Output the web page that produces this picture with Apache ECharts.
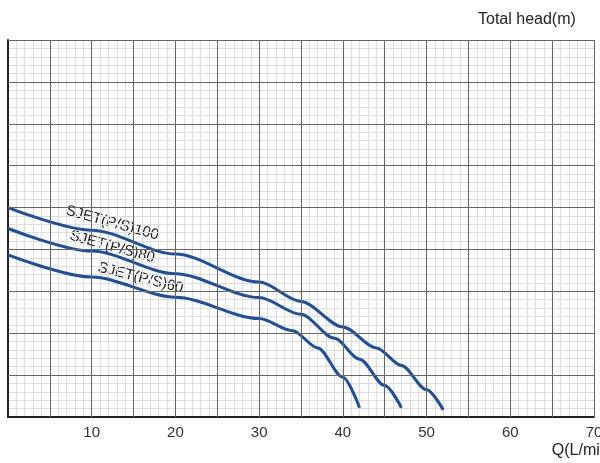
<!DOCTYPE html><html><head><meta charset="utf-8">
<script src="https://cdn.jsdelivr.net/npm/echarts@6/dist/echarts.min.js"></script>
<style>html,body{margin:0;background:#fff}#c{width:600px;height:463px}</style></head><body><div id="c"></div>
<script>
const names=['SJET(P/S)100','SJET(P/S)80','SJET(P/S)60'];
const s100=[[0,50],[10,44.6],[20,38.9],[30,32.2],[35,27.6],[40,21.5],[44,16.5],[47,12.3],[50,6.5],[52,1.7]];
const s80=[[0,45],[10,39.6],[20,34.2],[30,28.5],[35,24.5],[39,18.8],[42,13.8],[45,7.5],[47,2.2]];
const s60=[[0,38.7],[10,33.4],[20,28.6],[30,23.5],[34,20.6],[37,16.5],[40,9.5],[42,2.2]];
const xTicks=[10,20,30,40,50,60,70];
const c=echarts.init(document.getElementById('c'));
const F='Arial, Liberation Sans, sans-serif';
const mk=(n,d)=>({name:n,type:'line',data:d,smooth:0.3,smoothMonotone:'x',symbol:'none',lineStyle:{color:'#1d4e9f',width:3}});
c.setOption({animation:false,
grid:{left:8,right:6,top:40,bottom:46,containLabel:false,outerBoundsMode:'none'},
xAxis:{type:'value',min:0,max:70,interval:1,
 axisLine:{lineStyle:{color:'#222',width:2}},axisTick:{show:false},
 axisLabel:{formatter:v=>xTicks.includes(v)?v:'',fontFamily:F,fontSize:15,color:'#333',margin:8,interval:0},
 splitLine:{lineStyle:{color:'#ddd',width:1}},
 name:'Q(L/min)',nameLocation:'end',nameGap:0,nameTextStyle:{fontFamily:F,fontSize:16,color:'#222',align:'right',verticalAlign:'top',padding:[26,-20,0,0]}},
yAxis:{type:'value',min:0,max:90,interval:2,
 axisLine:{lineStyle:{color:'#222',width:2}},axisTick:{show:false},
 axisLabel:{formatter:v=>v%10===0&&v>0?v:'',fontFamily:F,fontSize:15,color:'#333',interval:0},
 splitLine:{lineStyle:{color:'#ddd',width:1}},
 name:'Total head(m)',nameLocation:'end',nameGap:12,nameTextStyle:{fontFamily:F,fontSize:16,color:'#222',align:'left',padding:[0,0,0,470]}},
series:[mk(names[0],s100),mk(names[1],s80),mk(names[2],s60),
 {type:'line',data:[],markLine:{silent:true,symbol:'none',label:{show:false},
  lineStyle:{color:'#666',width:1,type:'solid'},
  data:[5,10,15,20,25,30,35,40,45,50,55,60,65,70].map(v=>({xAxis:v})).concat([10,20,30,40,50,60,70,80,90].map(v=>({yAxis:v})))}}],
graphic:[
 {type:'text',x:68,y:203,rotation:-0.27,style:{text:names[0],font:'15px '+F,fill:'#222'}},
 {type:'text',x:72,y:228,rotation:-0.27,style:{text:names[1],font:'15px '+F,fill:'#222'}},
 {type:'text',x:100,y:260,rotation:-0.25,style:{text:names[2],font:'15px '+F,fill:'#222'}}]
});
</script></body></html>
